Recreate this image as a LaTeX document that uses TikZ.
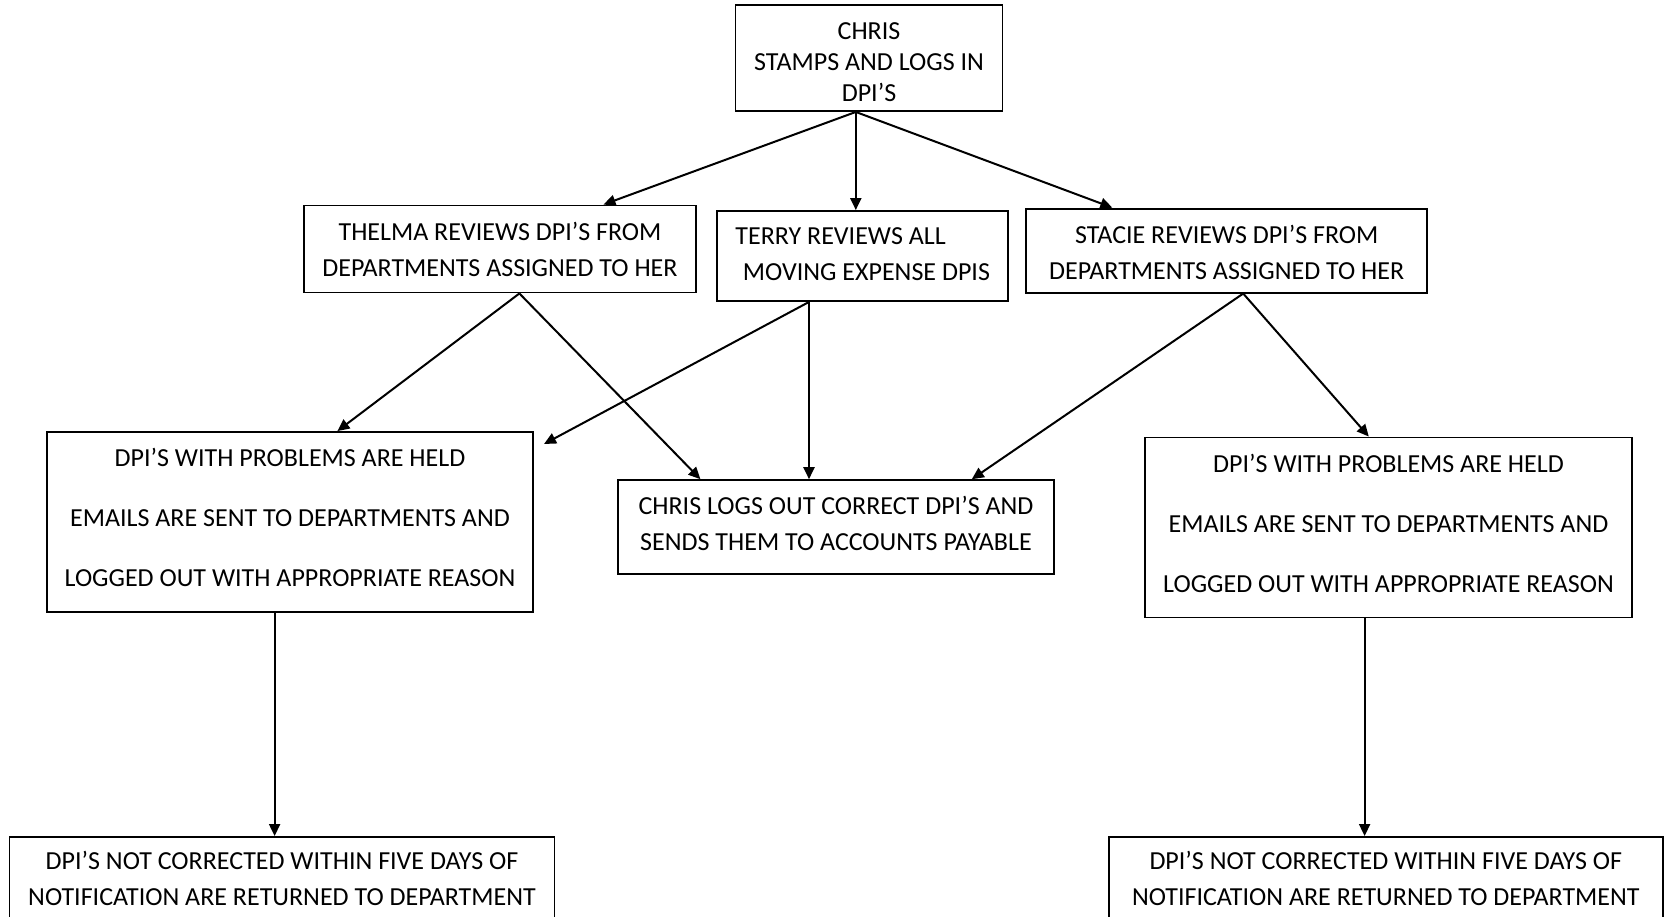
\documentclass[tikz,border=0pt]{standalone}
\usepackage{fontspec}
\setmainfont{Carlito}
\usetikzlibrary{arrows.meta}
\tikzset{
  box/.style={draw=black, line width=1.9pt, rectangle, inner sep=0pt},
  txt/.style={inner sep=0pt, align=center, font=\fontsize{26}{36}\selectfont},
  conn/.style={line width=2pt, -{Triangle[length=12pt,width=11pt]}}
}
\begin{document}
\begin{tikzpicture}[x=1pt,y=-1pt]
\clip (0,0) rectangle (1669,916);
\useasboundingbox (0,0) rectangle (1669,916);
\fill[white] (0,0) rectangle (1669,916);

\node[box, minimum width=267pt, minimum height=106pt] (top) at (869,58) {};
\node[txt, font=\fontsize{26}{31}\selectfont] (topT) at ([yshift=-4.3pt]top.center) {CHRIS\\STAMPS AND LOGS IN\\DPI’S};

\node[box, minimum width=392pt, minimum height=87pt] (thelma) at (500,249) {};
\node[txt] (thelmaT) at (thelma.center) {THELMA REVIEWS DPI’S FROM\\DEPARTMENTS ASSIGNED TO HER};

\node[box, minimum width=291pt, minimum height=90pt] (terry) at (862.7,256) {};
\node[txt, align=left] (terryT) at ([yshift=2.1pt]terry.center) {TERRY REVIEWS ALL\\\hspace*{7.5pt}MOVING EXPENSE DPIS};

\node[box, minimum width=401pt, minimum height=84pt] (stacie) at (1226.7,250.6) {};
\node[txt] (stacieT) at ([yshift=-2.1pt]stacie.center) {STACIE REVIEWS DPI’S FROM\\DEPARTMENTS ASSIGNED TO HER};

\node[box, minimum width=486.5pt, minimum height=180pt] (heldL) at (290,522) {};
\node[txt, font=\fontsize{26}{60}\selectfont] (heldLT) at ([yshift=4.3pt]heldL.center) {DPI’S WITH PROBLEMS ARE HELD\\EMAILS ARE SENT TO DEPARTMENTS AND\\LOGGED OUT WITH APPROPRIATE REASON};

\node[box, minimum width=435.4pt, minimum height=93.7pt] (logout) at (836,527) {};
\node[txt] (logoutT) at ([yshift=3.2pt]logout.center) {CHRIS LOGS OUT CORRECT DPI’S AND\\SENDS THEM TO ACCOUNTS PAYABLE};

\node[box, minimum width=486.4pt, minimum height=180pt] (heldR) at (1388.5,527.5) {};
\node[txt, font=\fontsize{26}{60}\selectfont] (heldRT) at ([yshift=4.3pt]heldR.center) {DPI’S WITH PROBLEMS ARE HELD\\EMAILS ARE SENT TO DEPARTMENTS AND\\LOGGED OUT WITH APPROPRIATE REASON};

\node[box, minimum width=545pt, minimum height=88pt] (botL) at (282,881) {};
\node[txt] (botLT) at ([yshift=2.1pt]botL.center) {DPI’S NOT CORRECTED WITHIN FIVE DAYS OF\\NOTIFICATION ARE RETURNED TO DEPARTMENT};

\node[box, minimum width=553.6pt, minimum height=88pt] (botR) at (1385.8,881) {};
\node[txt] (botRT) at ([yshift=2.1pt]botR.center) {DPI’S NOT CORRECTED WITHIN FIVE DAYS OF\\NOTIFICATION ARE RETURNED TO DEPARTMENT};

\coordinate (freeL) at (544,444);

\draw[conn] ([xshift=-13.2pt]top.south) -- ([xshift=103.5pt]thelma.north);
\draw[conn] ([xshift=-13.2pt]top.south) -- ([xshift=-6.9pt]terry.north);
\draw[conn] ([xshift=-13.2pt]top.south) -- ([xshift=-114.4pt]stacie.north);

\draw[conn] ([xshift=19.4pt]thelma.south) -- ([xshift=47.4pt]heldL.north);
\draw[conn] ([xshift=19.4pt]thelma.south) -- ([xshift=-135.6pt]logout.north);

\draw[conn] ([xshift=-53.7pt]terry.south) -- (freeL);
\draw[conn] ([xshift=-53.7pt]terry.south) -- ([xshift=-27pt]logout.north);

\draw[conn] ([xshift=16.5pt]stacie.south) -- ([xshift=135.8pt]logout.north);
\draw[conn] ([xshift=16.5pt]stacie.south) -- ([xshift=-19.7pt]heldR.north);

\draw[conn] ([xshift=-15.4pt]heldL.south) -- ([xshift=-7.4pt]botL.north);
\draw[conn] ([xshift=-23.9pt]heldR.south) -- ([xshift=-21.2pt]botR.north);
\end{tikzpicture}
\end{document}
